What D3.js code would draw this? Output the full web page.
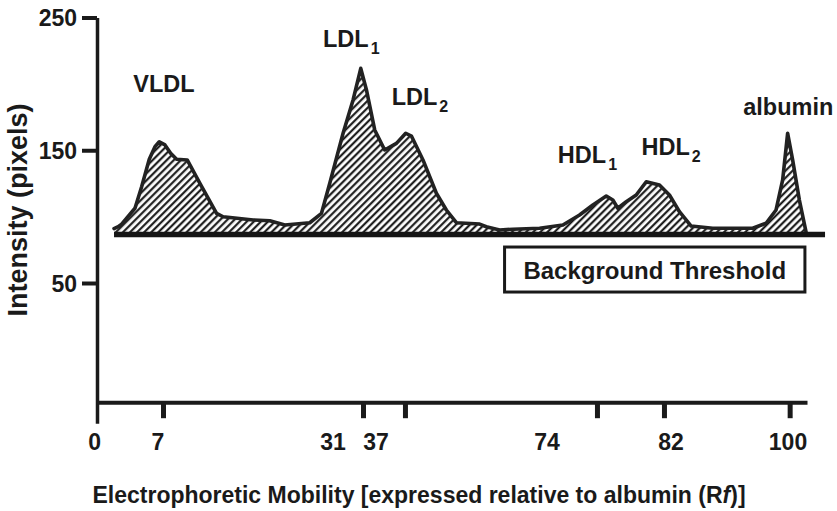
<!DOCTYPE html>
<html>
<head>
<meta charset="utf-8">
<script src="https://cdn.jsdelivr.net/npm/d3@7"></script>
<style>
  html, body { margin: 0; padding: 0; background: #fff; }
  text { font-family: "Liberation Sans", Arial, Helvetica, sans-serif; font-weight: bold; fill: #1a1a1a; }
</style>
</head>
<body>
<svg id="chart" width="837" height="511"></svg>
<script>
// ---- data (x in axis units 0..100 along the mobility axis, y = intensity in pixels) ----
const profileX = [2.6, 3.2, 3.70, 5.62, 6.58, 7.68, 8.50, 9.12, 9.94, 10.76, 11.62, 13.15, 14.98, 17.38, 18.33,
  22.66, 25.06, 27.22, 30.82, 32.51, 33.70, 35.62, 37.06, 38.17, 38.99, 40.18, 41.62, 43.31, 44.65, 45.47,
  47.14, 49.07, 50.51, 51.95, 55.31, 56.27, 58.19, 60.10, 63.95, 67.31, 69.71, 71.63, 73.56, 74.51, 75.23,
  76.44, 77.88, 79.32, 81.23, 82.67, 84.11, 85.80, 88.91, 94.67, 96.60, 98.04, 98.99, 99.71, 100.43, 101.40, 102.36];
const profileY = [91.0, 92.4, 94.4, 106.3, 122.5, 143.2, 152.7, 156.4, 154.0, 147.7, 143.2, 142.7, 125.1, 102.5, 99.9,
  97.5, 96.9, 93.7, 95.4, 102.5, 125.1, 162.8, 187.9, 211.7, 195.4, 165.3, 150.2, 155.2, 162.8, 160.7,
  142.7, 117.6, 105.0, 95.4, 94.4, 92.4, 89.9, 90.5, 91.2, 93.7, 101.2, 108.8, 115.5, 112.5, 106.3,
  111.2, 116.3, 126.3, 123.8, 116.3, 103.7, 92.9, 91.2, 91.2, 95.0, 105.0, 127.6, 162.8, 142.7, 112.5, 88.5];

const threshold = 86.5;          // background threshold intensity
const thresholdSpan = [2.6, 105.1];

const yTicks = [50, 150, 250];
const xTickMarks = [9.66, 38.49, 44.54, 72.22, 81.88, 100];
const xTickLabels = ["0", "7", "31", "37", "74", "82", "100"];
const xTickLabelPos = [-0.2, 8.94, 34.16, 40.36, 65.01, 82.89, 99.76];

const peakNames = ["VLDL", "LDL", "LDL", "HDL", "HDL", "albumin"];
const peakSubs = ["", "1", "2", "1", "2", ""];
const peakLabelX = [9.8, 36.8, 46.7, 70.85, 82.9, 99.8];
const peakLabelY = [194, 227.8, 184.1, 140.4, 146.4, 176.6];

const boxText = "Background Threshold";
const boxX = [58.9, 102.2];
const boxY = [77.1, 43.2];

// ---- scales ----
const svg = d3.select("#chart");
const x = d3.scaleLinear().domain([0, 102.5]).range([96, 807]);
const y = d3.scaleLinear().domain([50, 250]).range([283, 17.5]);
const xAxisAt = -39.8;
const yAxisBottom = -55.6;

const data = profileX.map((d, i) => ({ x: d, y: profileY[i] }));

// hatch pattern
const defs = svg.append("defs");
const pat = defs.append("pattern")
  .attr("id", "hatch").attr("patternUnits", "userSpaceOnUse")
  .attr("width", 5).attr("height", 10)
  .attr("patternTransform", "rotate(45)");
pat.append("line").attr("x1", 1.2).attr("y1", 0).attr("x2", 1.2).attr("y2", 10)
  .attr("stroke", "#111").attr("stroke-width", 2.1);

// area
const area = d3.area().x(d => x(d.x)).y0(y(threshold)).y1(d => y(d.y)).curve(d3.curveLinear);
svg.append("path").datum(data).attr("d", area).attr("fill", "url(#hatch)");

const line = d3.line().x(d => x(d.x)).y(d => y(d.y)).curve(d3.curveLinear);
svg.append("path").datum(data).attr("d", line)
  .attr("fill", "none").attr("stroke", "#222").attr("stroke-width", 3.6)
  .attr("stroke-linejoin", "round").attr("stroke-linecap", "round");

// threshold line
svg.append("line")
  .attr("x1", x(thresholdSpan[0])).attr("x2", x(thresholdSpan[1]))
  .attr("y1", y(threshold)).attr("y2", y(threshold))
  .attr("stroke", "#151515").attr("stroke-width", 5.5);

// y axis
const yScaleAxis = y.copy().domain([yAxisBottom, 250]).range([y(yAxisBottom), y(250)]);
const yAxis = svg.append("g").attr("transform", `translate(${x(0) + 1},0)`)
  .call(d3.axisLeft(yScaleAxis).tickValues(yTicks).tickSize(15).tickSizeOuter(0).tickPadding(5).tickFormat(d3.format("d")));
yAxis.select(".domain").attr("stroke", "#1a1a1a").attr("stroke-width", 3.5);
yAxis.selectAll(".tick line").attr("stroke", "#1a1a1a").attr("stroke-width", 4);
yAxis.selectAll(".tick text").style("font-size", "23px").attr("dy", "0.36em");

// x axis
const xAxis = svg.append("g").attr("transform", `translate(0,${y(xAxisAt)})`)
  .call(d3.axisBottom(x).tickValues(xTickMarks).tickSize(16).tickSizeOuter(0).tickFormat(""));
xAxis.select(".domain").attr("stroke", "#1a1a1a").attr("stroke-width", 4);
xAxis.selectAll(".tick line").attr("stroke", "#1a1a1a").attr("stroke-width", 5);

svg.append("g").selectAll("text").data(xTickLabels).join("text")
  .attr("x", (d, i) => x(xTickLabelPos[i]))
  .attr("y", 450)
  .attr("text-anchor", "middle")
  .style("font-size", "23px")
  .text(d => d);

// peak labels
const lab = svg.append("g").selectAll("text").data(peakNames).join("text")
  .attr("x", (d, i) => x(peakLabelX[i]))
  .attr("y", (d, i) => y(peakLabelY[i]))
  .attr("text-anchor", "middle")
  .style("font-size", "23.5px");
lab.append("tspan").text(d => d);
lab.append("tspan").text((d, i) => peakSubs[i])
  .attr("dx", 2).attr("dy", 7).style("font-size", "16px");

// threshold box
svg.append("rect")
  .attr("x", x(boxX[0])).attr("y", y(boxY[0]))
  .attr("width", x(boxX[1]) - x(boxX[0])).attr("height", y(boxY[1]) - y(boxY[0]))
  .attr("fill", "#fff").attr("stroke", "#1a1a1a").attr("stroke-width", 3);
svg.append("text")
  .attr("x", (x(boxX[0]) + x(boxX[1])) / 2).attr("y", 279)
  .attr("text-anchor", "middle").style("font-size", "24px")
  .text(boxText);

// axis titles
const xt = svg.append("text").attr("x", 419).attr("y", 503).attr("text-anchor", "middle").style("font-size", "23px");
xt.append("tspan").text("Electrophoretic Mobility [expressed relative to albumin (R");
xt.append("tspan").text("f").style("font-style", "italic");
xt.append("tspan").text(")]");

svg.append("text")
  .attr("transform", "translate(27,210) rotate(-90)")
  .attr("text-anchor", "middle").style("font-size", "27px")
  .text("Intensity (pixels)");
</script>
</body>
</html>
